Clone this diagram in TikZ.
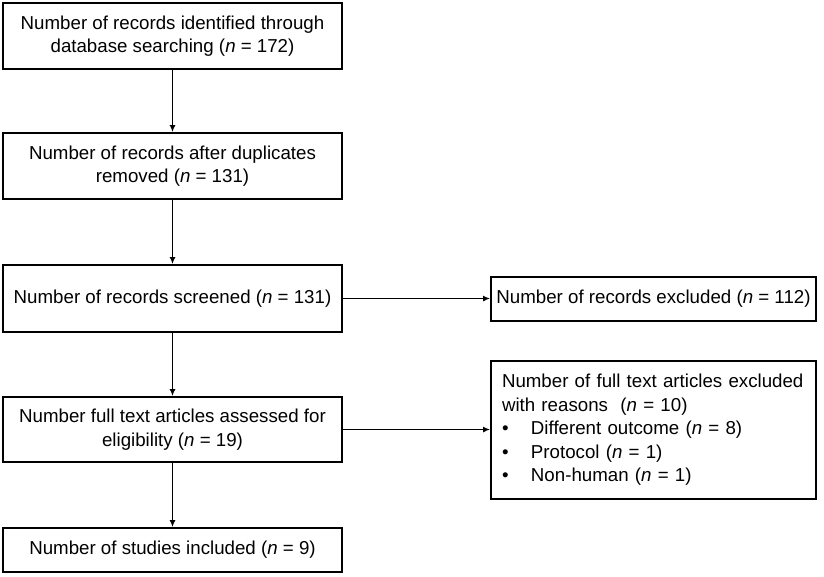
\documentclass[tikz,border=0pt]{standalone}
\usepackage{fontspec}
\setmainfont{Liberation Sans}
\usetikzlibrary{arrows.meta}
\begin{document}
\begin{tikzpicture}[x=1pt,y=-1pt,
  box/.style={draw, line width=1.8pt, rectangle, align=center, font=\fontsize{18.7}{23.5}\selectfont, inner sep=0pt},
  conn/.style={line width=1.6pt, -{Latex[length=7pt,width=6pt]}}]
\useasboundingbox (0,0) rectangle (824,576);
\node[box, minimum width=339pt, minimum height=66pt] (b1) at (172.5,36) {Number of records identified through\\database searching (\textit{n} = 172)};
\node[box, minimum width=339pt, minimum height=66pt] (b2) at (172.5,166) {Number of records after duplicates\\removed (\textit{n} = 131)};
\node[box, minimum width=339pt, minimum height=67pt] (b3) at (172.5,298.5) {Number of records screened (\textit{n} = 131)};
\node[box, minimum width=339pt, minimum height=65pt] (b4) at (172.5,429.5) {Number full text articles assessed for\\eligibility (\textit{n} = 19)};
\node[box, minimum width=339pt, minimum height=44pt] (b5) at (172.5,550) {Number of studies included (\textit{n} = 9)};
\node[box, minimum width=325pt, minimum height=44pt] (r1) at (653.5,299) {Number of records excluded (\textit{n} = 112)};
\node[box, minimum width=325pt, minimum height=138pt, text width=303pt, inner xsep=11pt, align=left] (r2) at (653.5,430) {Number of full text articles excluded\\with reasons\ \ (\textit{n} = 10)\\\makebox[29pt][l]{•}Different outcome (\textit{n} = 8)\\\makebox[29pt][l]{•}Protocol (\textit{n} = 1)\\\makebox[29pt][l]{•}Non-human (\textit{n} = 1)};
\draw[conn] (b1) -- (b2);
\draw[conn] (b2) -- (b3);
\draw[conn] (b3) -- (b4);
\draw[conn] (b4) -- (b5);
\draw[conn] (b3.east) -- (b3.east -| r1.west);
\draw[conn] (b4.east) -- (b4.east -| r2.west);
\end{tikzpicture}
\end{document}
